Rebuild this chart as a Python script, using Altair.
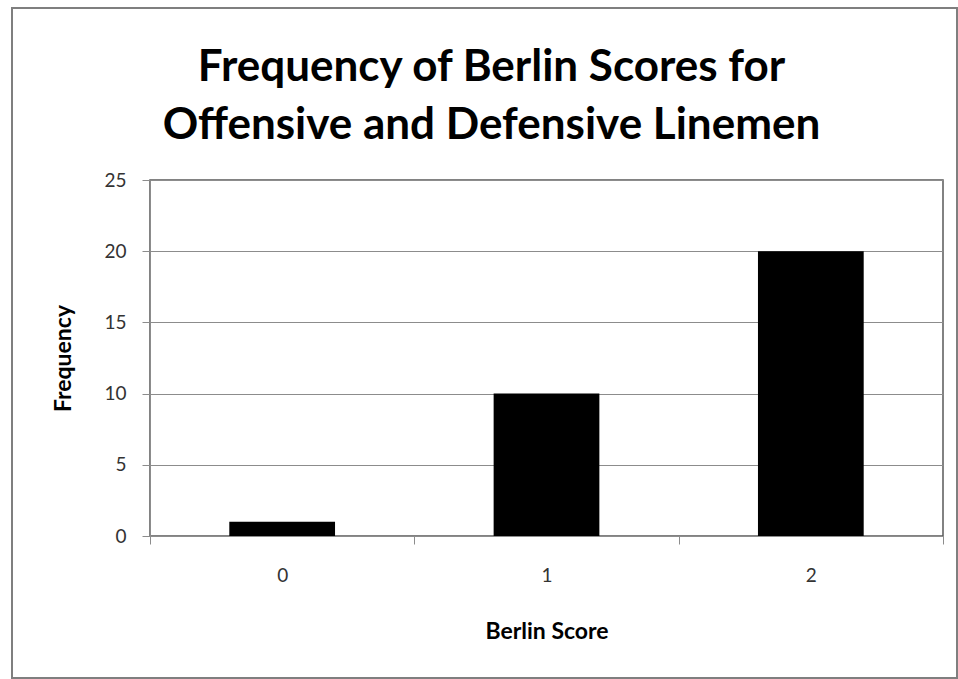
import altair as alt
import pandas as pd

scores = ["0", "1", "2"]
frequency = [1, 10, 20]
y_ticks = [0, 5, 10, 15, 20, 25]

df = pd.DataFrame({"score": scores, "freq": frequency})

FONT = "Lato"
GRID = "#8c8c8c"

bars = alt.Chart(df).mark_bar(color="black", width=alt.RelativeBandSize(0.4)).encode(
    x=alt.X("score:N", sort=scores,
            scale=alt.Scale(paddingInner=0, paddingOuter=0),
            axis=alt.Axis(title="Berlin Score", labelAngle=0, tickBand="extent",
                          tickSize=8, tickColor=GRID, domainColor=GRID,
                          labelPadding=22, titlePadding=35,
                          labelFont=FONT, labelFontSize=19, labelColor="#333333",
                          titleFont=FONT, titleFontSize=23, titleFontWeight="bold",
                          titleColor="black")),
    y=alt.Y("freq:Q", scale=alt.Scale(domain=[0, 25], nice=False),
            axis=alt.Axis(title="Frequency", values=y_ticks, grid=True, gridColor=GRID,
                          tickSize=8, tickColor=GRID, domainColor=GRID,
                          labelPadding=16, titlePadding=28,
                          labelFont=FONT, labelFontSize=19, labelColor="#333333",
                          titleFont=FONT, titleFontSize=23, titleFontWeight="bold",
                          titleColor="black")),
)

frame = alt.Chart(alt.Data(values=[{"a": 1}])).mark_rect(
    fill=None, stroke="#7f7f7f", strokeWidth=2
).encode(
    x=alt.value(-138), x2=alt.value(807), y=alt.value(-172), y2=alt.value(498)
)

chart = alt.layer(bars, frame).properties(
    width=793, height=356,
    autosize=alt.AutoSizeParams(type="none"),
    padding={"left": 150, "top": 180, "right": 15, "bottom": 143},
    background="white",
    title=alt.Title(
        ["Frequency of Berlin Scores for", "Offensive and Defensive Linemen"],
        font=FONT, fontSize=44, fontWeight="bold", color="black",
        anchor="middle", frame="group", dx=-55, offset=0, dy=141, lineHeight=58,
    ),
).configure_view(stroke="#595959", strokeWidth=1.5)

chart.save("out.html", embed_options={"renderer": "svg", "actions": False})
